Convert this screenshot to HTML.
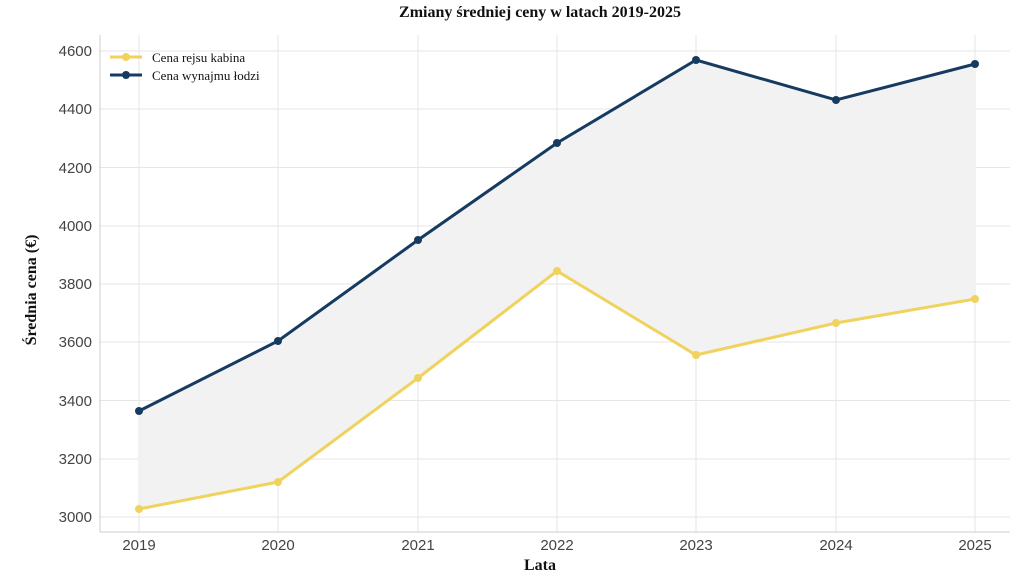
<!DOCTYPE html>
<html><head><meta charset="utf-8"><style>
body{margin:0;background:#fff;width:1024px;height:576px;overflow:hidden}
svg{display:block}
</style></head><body>
<svg width="1024" height="576" xmlns="http://www.w3.org/2000/svg">
<text x="540" y="17" text-anchor="middle" font-family="Liberation Serif, serif" font-weight="bold" font-size="16" fill="#111">Zmiany średniej ceny w latach 2019-2025</text>
<g stroke="#e6e6e6" stroke-width="1">
<line x1="100" y1="51" x2="1010" y2="51"/><line x1="100" y1="109" x2="1010" y2="109"/>
<line x1="100" y1="167.5" x2="1010" y2="167.5"/><line x1="100" y1="226" x2="1010" y2="226"/>
<line x1="100" y1="284" x2="1010" y2="284"/><line x1="100" y1="342" x2="1010" y2="342"/>
<line x1="100" y1="400.5" x2="1010" y2="400.5"/><line x1="100" y1="459" x2="1010" y2="459"/>
<line x1="100" y1="517" x2="1010" y2="517"/>
<line x1="139" y1="35" x2="139" y2="532"/><line x1="278" y1="35" x2="278" y2="532"/>
<line x1="418" y1="35" x2="418" y2="532"/><line x1="557" y1="35" x2="557" y2="532"/>
<line x1="696" y1="35" x2="696" y2="532"/><line x1="836" y1="35" x2="836" y2="532"/>
<line x1="975" y1="35" x2="975" y2="532"/>
</g>
<line x1="100" y1="35" x2="100" y2="532" stroke="#ccc"/>
<line x1="100" y1="532" x2="1010" y2="532" stroke="#ccc"/>
<polygon points="139,411 278,341 418,240 557,143 696,60 836,100 975,64 975,299 836,323 696,355 557,271 418,378 278,482 139,509" fill="#f2f2f2"/>
<polyline points="139,509 278,482 418,378 557,271 696,355 836,323 975,299" fill="none" stroke="#f0d25e" stroke-width="3"/>
<polyline points="139,411 278,341 418,240 557,143 696,60 836,100 975,64" fill="none" stroke="#173b60" stroke-width="3"/>
<g fill="#f0d25e"><circle cx="139" cy="509" r="4"/><circle cx="278" cy="482" r="4"/><circle cx="418" cy="378" r="4"/><circle cx="557" cy="271" r="4"/><circle cx="696" cy="355" r="4"/><circle cx="836" cy="323" r="4"/><circle cx="975" cy="299" r="4"/></g>
<g fill="#173b60"><circle cx="139" cy="411" r="4"/><circle cx="278" cy="341" r="4"/><circle cx="418" cy="240" r="4"/><circle cx="557" cy="143" r="4"/><circle cx="696" cy="60" r="4"/><circle cx="836" cy="100" r="4"/><circle cx="975" cy="64" r="4"/></g>
<g font-family="Liberation Sans, sans-serif" font-size="15" fill="#444" text-anchor="end">
<text x="92" y="56">4600</text><text x="92" y="114">4400</text><text x="92" y="173">4200</text><text x="92" y="231">4000</text><text x="92" y="289">3800</text><text x="92" y="347">3600</text><text x="92" y="406">3400</text><text x="92" y="464">3200</text><text x="92" y="522">3000</text>
</g>
<g font-family="Liberation Sans, sans-serif" font-size="15" fill="#444" text-anchor="middle">
<text x="139" y="550">2019</text><text x="278" y="550">2020</text><text x="418" y="550">2021</text><text x="557" y="550">2022</text><text x="696" y="550">2023</text><text x="836" y="550">2024</text><text x="975" y="550">2025</text>
</g>
<text x="540" y="570" text-anchor="middle" font-family="Liberation Serif, serif" font-weight="bold" font-size="16" fill="#111">Lata</text>
<text transform="translate(36,290) rotate(-90)" text-anchor="middle" font-family="Liberation Serif, serif" font-weight="bold" font-size="16" fill="#111">Średnia cena (€)</text>
<line x1="110" y1="57" x2="142" y2="57" stroke="#f0d25e" stroke-width="3"/><circle cx="126" cy="57" r="4" fill="#f0d25e"/>
<line x1="110" y1="75" x2="142" y2="75" stroke="#173b60" stroke-width="3"/><circle cx="126" cy="75" r="4" fill="#173b60"/>
<g font-family="Liberation Serif, serif" font-size="13" fill="#111">
<text x="152" y="62">Cena rejsu kabina</text><text x="152" y="80">Cena wynajmu łodzi</text>
</g>
</svg>
</body></html>
